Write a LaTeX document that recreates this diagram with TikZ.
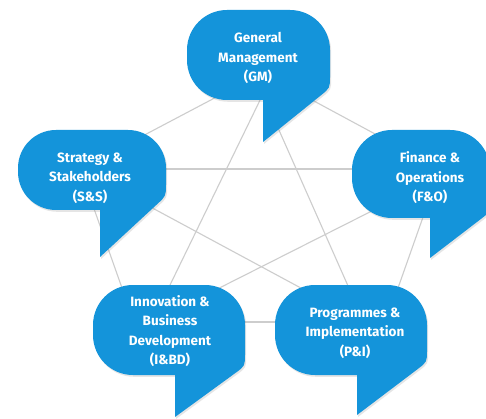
\documentclass[tikz,border=0pt]{standalone}
\usepackage{fontspec}
\setmainfont{Fira Sans}
\usetikzlibrary{calc,shadows}
\definecolor{bblue}{RGB}{20,148,218}
\definecolor{lgray}{RGB}{205,205,205}
\tikzset{
  link/.style={draw=lgray, line width=1.1pt},
  bubblefill/.style={fill=bblue, drop shadow={shadow xshift=1.2pt, shadow yshift=-1.8pt, opacity=0.2}},
  btext/.style={text=white, align=center, inner sep=0pt,
    font=\fontsize{13.5}{19.5}\selectfont\bfseries},
}
% #1 L, #2 T, #3 R, #4 B, #5 tail x, #6 tip y, #7 junction y, #8 radius
\newcommand\mybubble[8]{%
  \path[bubblefill] (#5,#6) -- (#5,#4) -- ({#1+#8},#4)
    arc[start angle=90,end angle=180,radius=#8] -- (#1,{#2+#8})
    arc[start angle=180,end angle=270,radius=#8] -- ({#3-#8},#2)
    arc[start angle=270,end angle=360,radius=#8] -- (#3,{#7-12})
    .. controls (#3,#7) .. ($(#3,#7)!12pt!(#5,#6)$) -- cycle;}
\begin{document}
\begin{tikzpicture}[x=1pt,y=-1pt]
  \fill[white] (0,0) rectangle (486,419);
  \useasboundingbox (0,0) rectangle (486,419);
  % pentagon vertices (hidden under the bubbles)
  \coordinate (gmo) at (262,73);
  \coordinate (gmi) at (263,94);
  \coordinate (ss)  at (80,169);
  \coordinate (foo) at (440,169);
  \coordinate (foi) at (455,169);
  \coordinate (ibo) at (134,322);
  \coordinate (ibi) at (152,322);
  \coordinate (pio) at (386,322);
  \coordinate (pii) at (364,322);
  % connectors
  \draw[link] (gmo) -- (ss);
  \draw[link] (gmo) -- (foo);
  \draw[link] (ss) -- (foo);
  \draw[link] (gmi) -- (ibi);
  \draw[link] (gmi) -- (pii);
  \draw[link] (ss) -- (pii);
  \draw[link] (foi) -- (ibi);
  \draw[link] (ss) -- (ibo);
  \draw[link] (foo) -- (pio);
  \draw[link] (ibo) -- (pio);
  % bubbles
  \mybubble{187}{10}{330}{100}{263}{142}{88}{40}
  \mybubble{18}{130}{166}{210}{100}{257}{196}{38}
  \mybubble{352}{130}{490}{218}{430}{258}{212}{40}
  \mybubble{93}{285}{245}{375}{175}{417}{366}{40}
  \mybubble{275}{285}{427}{375}{357}{415}{362}{40}
  % labels
  \node[btext] (gm) at (258,58) {General\\Management\\(GM)};
  \node[btext] (sands) at (90,178) {Strategy \&\\Stakeholders\\(S\&S)};
  \node[btext] (fando) at (430,178) {Finance \&\\Operations\\(F\&O)};
  \node[btext] (ibd) at (170,331) {Innovation \&\\Business\\Development\\(I\&BD)};
  \node[btext] (pandi) at (355,333) {Programmes \&\\Implementation\\(P\&I)};
\end{tikzpicture}
\end{document}
